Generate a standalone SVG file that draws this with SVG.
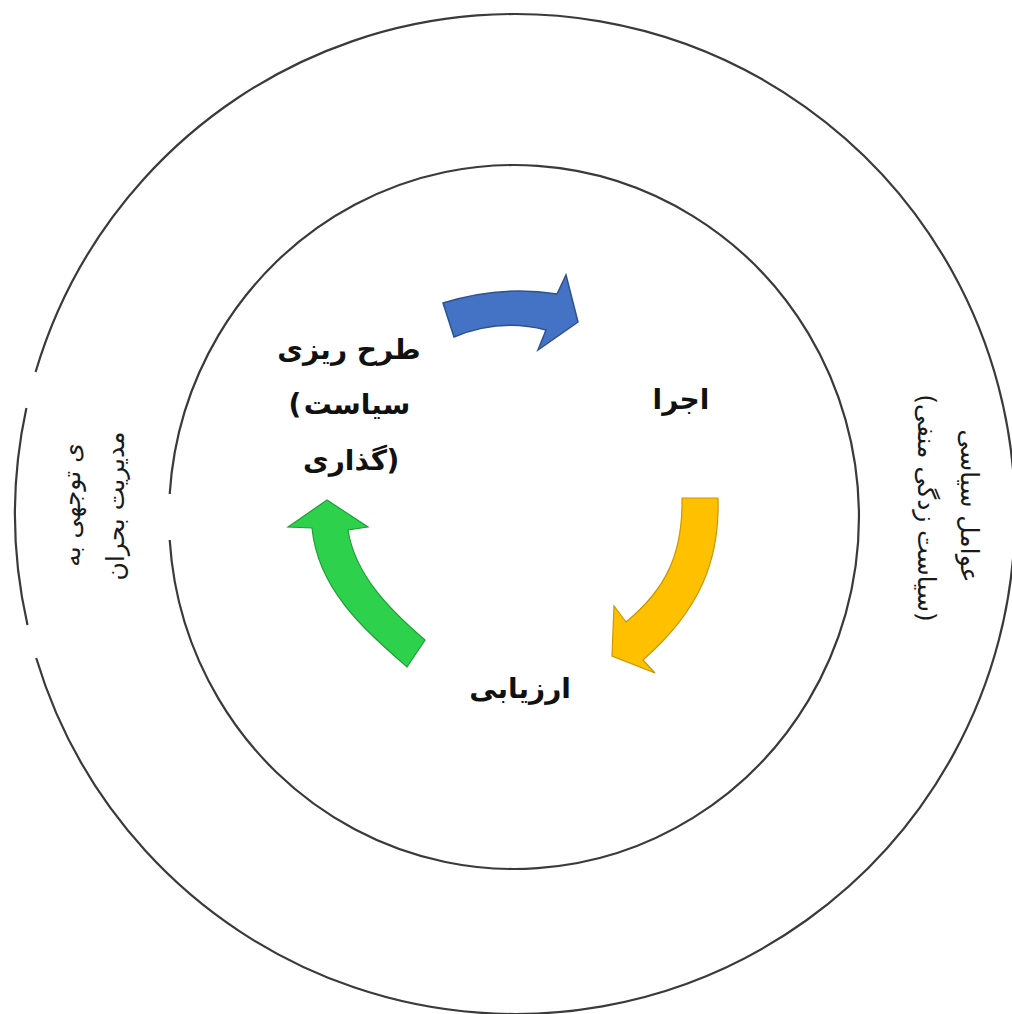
<svg xmlns="http://www.w3.org/2000/svg" width="1012" height="1014" viewBox="0 0 1012 1014">
<style>
.ring{fill:none;stroke:#3a3a3a;stroke-width:2.2}
.outer{font-family:"DejaVu Sans",sans-serif;font-size:25px;fill:#1a1a1a}
.inner{font-family:"DejaVu Sans",sans-serif;font-weight:bold;font-size:28px;fill:#111}
.blue{fill:#4472C4;stroke:#2F528F;stroke-width:1.5}
.yellow{fill:#FFC000;stroke:#C99800;stroke-width:1.2}
.green{fill:#2ED14C;stroke:#1E9E37;stroke-width:1.2}
</style>
<rect width="1012" height="1014" fill="#fff"/>
<g id="rings">
<path class="ring" d="M 35.6 372 A 500 500 0 1 1 36.2 658"/>
<path class="ring" d="M 26.4 408 A 500 500 0 0 0 27.5 625"/>
<path class="ring" d="M 169.7 494 A 345 352 0 1 1 169.7 540"/>
</g>
<g id="outer-left">
<text class="outer" direction="rtl" text-anchor="middle" transform="translate(80,505) rotate(-90)">ی توجهی به</text>
<text class="outer" direction="rtl" text-anchor="middle" transform="translate(124,506) rotate(-90)">مدیریت بحران</text>
</g>
<g id="outer-right">
<text class="outer" direction="rtl" text-anchor="middle" transform="translate(961,506) rotate(90)">عوامل سیاسی</text>
<text class="outer" direction="rtl" text-anchor="middle" transform="translate(918,508) rotate(90)">(سیاست زدگی منفی)</text>
</g>
<g id="node-planning">
<text class="inner" direction="rtl" text-anchor="middle" x="349" y="359">طرح ریزی</text>
<text class="inner" text-anchor="middle" x="295" y="414">(</text>
<text class="inner" direction="rtl" text-anchor="middle" x="357" y="414">سیاست</text>
<text class="inner" direction="rtl" text-anchor="middle" x="345" y="470">گذاری</text>
<text class="inner" text-anchor="middle" x="393" y="470">)</text>
</g>
<g id="node-execution">
<text class="inner" direction="rtl" text-anchor="middle" x="681" y="409">اجرا</text>
</g>
<g id="node-evaluation">
<text class="inner" direction="rtl" text-anchor="middle" x="520" y="698">ارزیابی</text>
</g>
<g id="connectors">
<path class="blue" d="M 443 303 Q 500 285 557 294 L 566 275 L 578 322 L 538 350 L 546 330 Q 500 318 454 337 Z"/>
<path class="yellow" d="M 682 498 L 718 498 C 720 560 700 610 643 660 L 655 673 L 612 656 L 614 606 L 626 622 C 665 590 683 555 682 498 Z"/>
<path class="green" d="M 407 667 L 425 640 C 390 610 355 575 348 530 L 368 527 L 327 500 L 288 527 L 312 528 C 318 590 365 630 407 667 Z"/>
</g>
</svg>
